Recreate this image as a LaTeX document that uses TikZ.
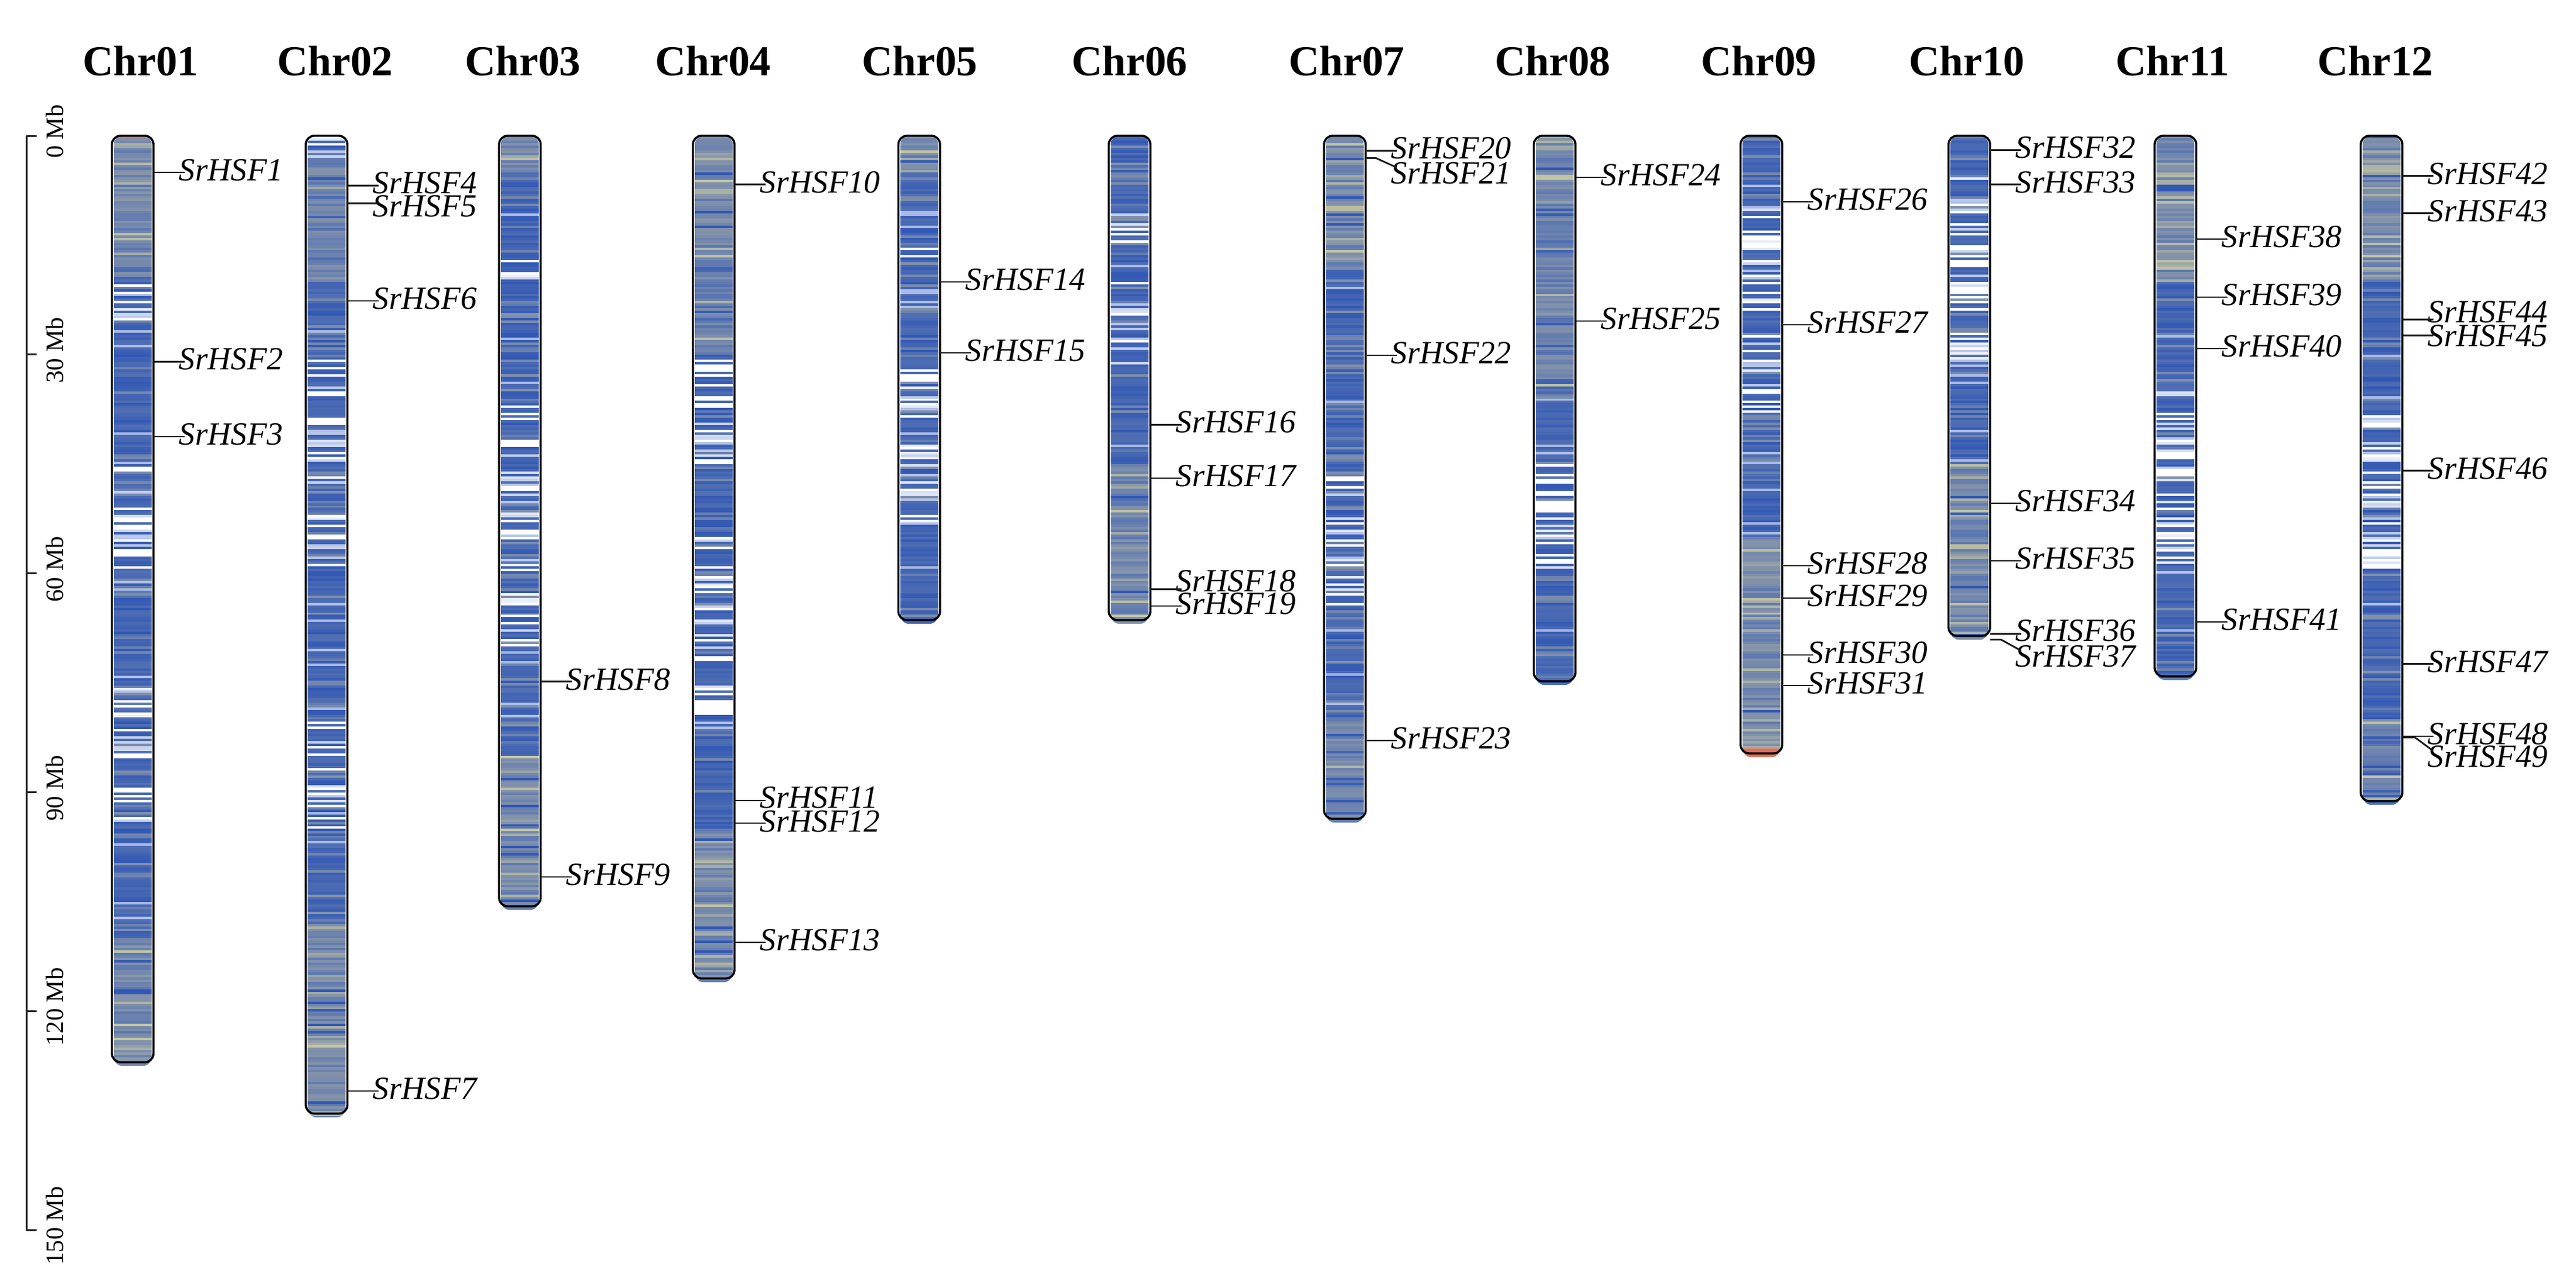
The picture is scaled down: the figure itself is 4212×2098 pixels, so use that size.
\documentclass[tikz,border=0pt]{standalone}
\usepackage{fontspec}
\setmainfont{Liberation Serif}
\definecolor{cdb}{RGB}{50,88,180}
\definecolor{cmb}{RGB}{90,118,178}
\definecolor{cgb}{RGB}{130,146,170}
\definecolor{cgy}{RGB}{198,200,162}
\definecolor{clb}{RGB}{170,188,230}
\definecolor{cred}{RGB}{226,112,88}
\tikzset{
  barline/.style={draw=black, line width=0.85pt},
  lead/.style={draw=black!90, line width=0.7pt},
  lab/.style={font=\fontsize{13.2}{14}\selectfont\itshape, inner sep=0pt, anchor=base west},
  ttl/.style={font=\fontsize{17.4}{20}\selectfont\bfseries, inner sep=0pt, anchor=base},
  axl/.style={font=\fontsize{10.2}{12}\selectfont, inner sep=0pt, rotate=90},
  axline/.style={draw=black!85, line width=0.75pt}
}
\newcommand\pickR{\def\sc{cred}}
\newcommand\pickG{%
  \pgfmathsetmacro\rr{rnd}\pgfmathtruncatemacro\pp{rnd*100}%
  \ifdim\rr pt<0.22pt \edef\sc{cgy!\pp!cgb}\else\ifdim\rr pt<0.78pt \edef\sc{cgb!\pp!cmb}\else\ifdim\rr pt<0.95pt \def\sc{cgb}\else\def\sc{cdb}\fi\fi\fi}
\newcommand\pickM{%
  \pgfmathsetmacro\rr{rnd}\pgfmathtruncatemacro\pp{rnd*100}%
  \ifdim\rr pt<0.08pt \edef\sc{cgy!\pp!cgb}\else\ifdim\rr pt<0.8pt \edef\sc{cmb!\pp!cgb}\else\edef\sc{cdb!\pp!cmb}\fi\fi}
\newcommand\pickB{%
  \pgfmathsetmacro\rr{rnd}\pgfmathtruncatemacro\pp{20+rnd*80}%
  \ifdim\rr pt<0.05pt \def\sc{clb}\else\ifdim\rr pt<0.2pt \edef\sc{cgb!\pp!cmb}\else\edef\sc{cdb!\pp!cmb}\fi\fi}
\newcommand\pickW{%
  \pgfmathsetmacro\rr{rnd}\pgfmathtruncatemacro\pp{20+rnd*80}%
  \ifdim\rr pt<0.17pt \def\sc{white}\else\ifdim\rr pt<0.33pt \edef\sc{clb!\pp!white}\else\ifdim\rr pt<0.43pt \edef\sc{cgb!\pp!cmb}\else\edef\sc{cdb!\pp!cmb}\fi\fi\fi}
% #1 name, #2 x centre, #3 bottom y, #4 profile (Mb)
\newcommand\chrbar[4]{%
  \begin{scope}
    \clip[rounded corners=3.5pt] ({#2-31},222) rectangle ({#2+31},{#3+6});
    \foreach \sa/\sb/\ty in {#4}{
      \pgfmathtruncatemacro\ia{\sa*3}
      \pgfmathtruncatemacro\ib{\sb*3-1}
      \foreach \i in {\ia,...,\ib}{
        \csname pick\ty\endcsname
        \fill[\sc] ({#2-34},{222+3.977*\i}) rectangle ({#2+34},{222+3.977*(\i+1)+0.6});
      }
    }
  \end{scope}
  \draw[barline, rounded corners=3.5pt] ({#2-34},222) rectangle ({#2+34},#3);
  \coordinate (#1) at (#2,222);
}
% straight label: #1 id, #2 bar centre, #3 line y, #4 baseline y
\newcommand\gene[4]{%
  \coordinate (e#1) at ({#2+34},#3);
  \node[lab] (t#1) at ({#2+75},#4) {SrHSF#1};
  \draw[lead] (e#1) -- ([xshift=2.6pt]e#1 -| t#1.west);
}
% kinked label: #5 horizontal run
\newcommand\genek[5]{%
  \coordinate (e#1) at ({#2+34},#3);
  \node[lab] (t#1) at ({#2+75},#4) {SrHSF#1};
  \draw[lead] (e#1) -- ++(#5,0) -- ([xshift=2.25pt,yshift=6.6pt]t#1.base west);
}
\begin{document}
\begin{tikzpicture}[x=0.25pt,y=-0.25pt]
\pgfmathsetseed{11}
\useasboundingbox (0,0) rectangle (4212,2098);

% titles
\foreach \n/\xx in {01/230,02/548,03/855,04/1166,05/1504,06/1847,07/2202,08/2539,09/2876,10/3216,11/3552,12/3884}{
  \node[ttl] (title\n) at (\xx,123) {Chr\n};
}

% axis
\coordinate (ax0) at (43,222);
\coordinate (ax150) at (43,2011.5);
\draw[axline] (ax0) -- (ax150);
\foreach \m in {0,30,...,150}{
  \coordinate (tk\m) at (43,{222+11.93*\m});
  \draw[axline] (tk\m) -- ++(4.3pt,0);
  \node[axl] (al\m) at (90,{215+11.93*\m}) {\m\ Mb};
}

% chromosomes
\chrbar{chr01}{217}{1737}{0/0.4/R,0.4/12/G,12/19/M,19/26/W,26/45/B,45/60/W,60/75/B,75/95/W,95/110/B,110/129/G}
\chrbar{chr02}{534}{1821}{0/3/W,3/8/G,8/20/M,20/30/B,30/60/W,60/80/B,80/95/W,95/108/B,108/136/G}
\chrbar{chr03}{850}{1482}{0/5/G,5/15/B,15/20/W,20/35/B,35/70/W,70/85/B,85/108/G}
\chrbar{chr04}{1167}{1600}{0/15/G,15/30/M,30/45/W,45/55/B,55/80/W,80/95/B,95/118/G}
\chrbar{chr05}{1503}{1014}{0/5/G,5/15/B,15/17/W,17/28/B,28/55/W,55/68/B}
\chrbar{chr06}{1847}{1014}{0/8/B,8/15/W,15/20/B,20/32/W,32/45/B,45/55/M,55/68/G}
\chrbar{chr07}{2199}{1339}{0/18/G,18/45/B,45/65/W,65/80/B,80/96/M}
\chrbar{chr08}{2542}{1114}{0/10/G,10/35/M,35/45/B,45/60/W,60/77/B}
\chrbar{chr09}{2880}{1232}{0/10/B,10/40/W,40/55/B,55/84/G,84/87/R}
\chrbar{chr10}{3220}{1040}{0/4/B,4/32/W,32/45/B,45/71/G}
\chrbar{chr11}{3557}{1106}{0/20/G,20/35/B,35/60/W,60/76/B}
\chrbar{chr12}{3894}{1310}{0/20/G,20/38/B,38/60/W,60/80/B,80/94/M}

% gene labels
\gene{1}{217}{282}{295}
\gene{2}{217}{591.5}{604.5}
\gene{3}{217}{714}{727}
\gene{4}{534}{303.6}{316}
\gene{5}{534}{332.6}{354}
\gene{6}{534}{492}{505}
\gene{7}{534}{1784}{1797}
\gene{8}{850}{1114.7}{1128}
\gene{9}{850}{1434}{1447}
\gene{10}{1167}{301.6}{315}
\gene{11}{1167}{1309}{1321}
\gene{12}{1167}{1346}{1360}
\gene{13}{1167}{1541}{1554}
\gene{14}{1503}{461}{474}
\gene{15}{1503}{577}{590}
\gene{16}{1847}{694.5}{707}
\gene{17}{1847}{782}{795}
\gene{18}{1847}{963.8}{967}
\gene{19}{1847}{990.9}{1004}
\gene{20}{2199}{246.7}{259.5}
\genek{21}{2199}{258.6}{300}{4.25pt}
\gene{22}{2199}{581}{594}
\gene{23}{2199}{1211}{1224}
\gene{24}{2542}{290}{303}
\gene{25}{2542}{525}{538}
\gene{26}{2880}{330}{343}
\gene{27}{2880}{531}{544}
\gene{28}{2880}{925}{938}
\gene{29}{2880}{978}{991}
\gene{30}{2880}{1071}{1084}
\gene{31}{2880}{1121}{1134}
\gene{32}{3220}{245.5}{258}
\gene{33}{3220}{301.6}{315}
\gene{34}{3220}{823}{836}
\gene{35}{3220}{917}{930}
\gene{36}{3220}{1036.5}{1048}
\genek{37}{3220}{1046}{1090}{4.5pt}
\gene{38}{3557}{391}{404}
\gene{39}{3557}{486}{499}
\gene{40}{3557}{570}{583}
\gene{41}{3557}{1017}{1030}
\gene{42}{3894}{287.6}{301}
\gene{43}{3894}{348.7}{362}
\gene{44}{3894}{522.6}{527}
\gene{45}{3894}{548.6}{566}
\gene{46}{3894}{769.6}{783}
\gene{47}{3894}{1085.6}{1099}
\gene{48}{3894}{1204}{1217}
\genek{49}{3894}{1206}{1254}{5.25pt}
\end{tikzpicture}
\end{document}
